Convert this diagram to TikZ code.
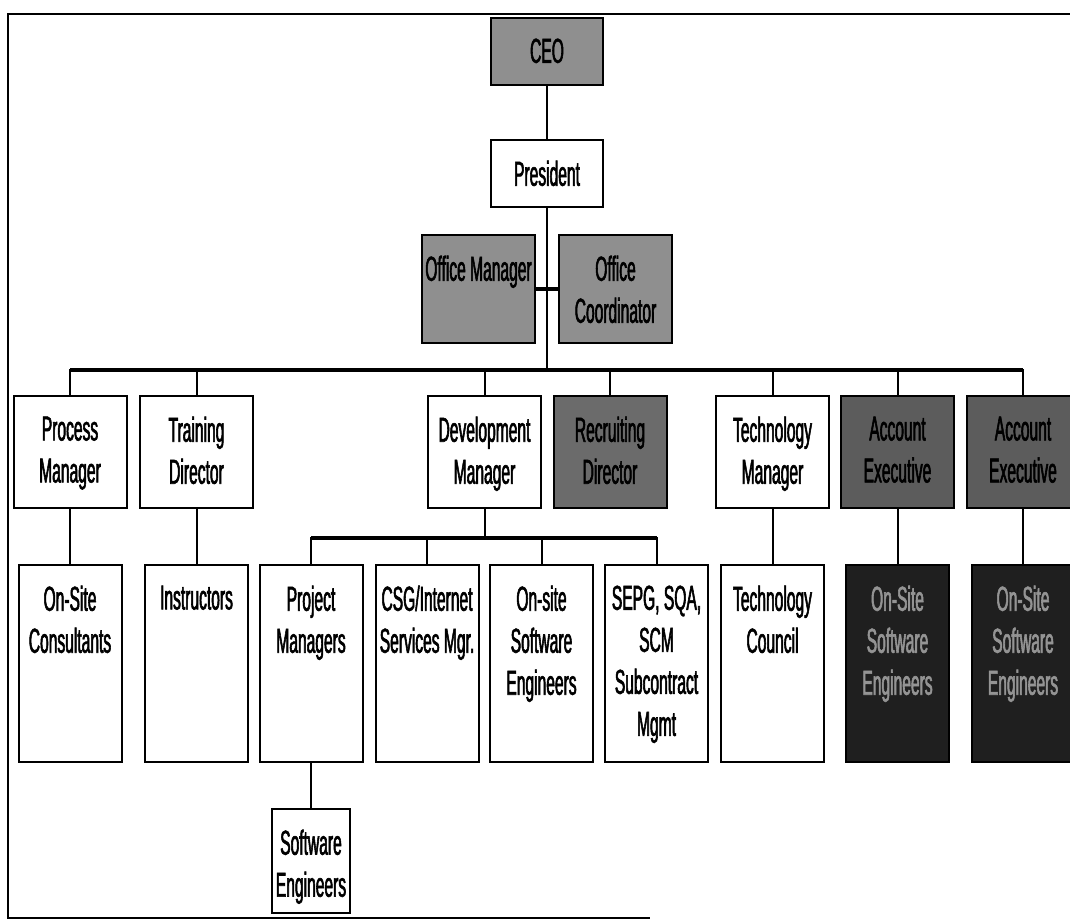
\documentclass[tikz,border=0pt]{standalone}
\usepackage{fontspec}
\newfontfamily\orgfont{Liberation Sans}[FakeStretch=0.45, FakeBold=1.6]
\usepackage{tikz}
\usetikzlibrary{positioning}

\definecolor{midgrey}{gray}{0.56}
\definecolor{deepgrey}{gray}{0.42}
\definecolor{acctgrey}{gray}{0.36}
\definecolor{nightgrey}{gray}{0.12}

\begin{document}
\begin{tikzpicture}[x=0.75pt, y=-0.75pt,
      font=\orgfont\fontsize{26}{31.5}\selectfont,
      box/.style={draw, line width=1.5pt, fill=white, inner sep=0pt,
                  minimum width=84.75pt, minimum height=84pt},
      grey/.style={box, fill=midgrey},
      dgrey/.style={box, fill=deepgrey},
      agrey/.style={box, fill=acctgrey},
      tall/.style={box, minimum width=77.25pt, minimum height=147.75pt},
      blk/.style={tall, fill=nightgrey},
      head/.style={anchor=north, align=center, inner sep=0pt, yshift=-16pt},
      lhead/.style={head, text=black!42},
      link/.style={line width=1.5pt},
      bus/.style={line width=2.4pt},
   ]
   \useasboundingbox (0,0) rectangle (1070,921);
   \clip (0,0) rectangle (1070,921);
   \draw[line width=1.8pt] (1070,14) -- (8,14) -- (8,918) -- (650,918);

   % top of the chart
   \node[grey, minimum width=84pt, minimum height=50.25pt,
         label={[head]north:CEO}] (ceo) at (547,51.5) {};
   \node[box, minimum width=84pt, minimum height=50.25pt,
         label={[head]north:President}] (pres) at (547,173.5) {};
   \node[grey, minimum height=81pt,
         label={[head]north:Office Manager}] (offm) at (478.5,289) {};
   \node[grey, minimum height=81pt,
         label={[head]north:Office\\Coordinator}] (offc) at (615.5,289) {};

   % managers
   \node[box, label={[head]north:Process\\Manager}] (pm) at (70,452) {};
   \node[box, label={[head]north:Training\\Director}] (td) at (196.5,452) {};
   \node[box, label={[head]north:Development\\Manager}] (dm) at (484.5,452) {};
   \node[dgrey, label={[head]north:Recruiting\\Director}] (rd) at (610,452) {};
   \node[box, label={[head]north:Technology\\Manager}] (tm) at (772.5,452) {};
   \node[agrey, label={[head]north:Account\\Executive}] (ae1) at (897.5,452) {};
   \node[agrey, label={[head]north:Account\\Executive}] (ae2) at (1023,452) {};

   % staff
   \node[tall, label={[head]north:On-Site\\Consultants}] (osc) at (70,663.5) {};
   \node[tall, label={[head]north:Instructors}] (ins) at (196.5,663.5) {};
   \node[tall, label={[head]north:Project\\Managers}] (prj) at (311,663.5) {};
   \node[tall, label={[head]north:CSG/Internet\\Services Mgr.}] (csg) at (427,663.5) {};
   \node[tall, label={[head]north:On-site\\Software\\Engineers}] (osse) at (541.5,663.5) {};
   \node[tall, label={[head]north:SEPG, SQA,\\SCM\\Subcontract\\Mgmt}] (sepg) at (656.5,663.5) {};
   \node[tall, label={[head]north:Technology\\Council}] (tc) at (772.5,663.5) {};
   \node[blk, label={[lhead]north:On-Site\\Software\\Engineers}] (os1) at (897.5,663.5) {};
   \node[blk, label={[lhead]north:On-Site\\Software\\Engineers}] (os2) at (1023,663.5) {};
   \node[box, minimum width=58.5pt, minimum height=78pt,
         label={[head]north:Software\\Engineers}] (swe) at (311,861) {};

   % lines
   \coordinate (hub) at (547,370);
   \coordinate (devhub) at (484.5,538);
   \draw[link] (ceo) -- (pres);
   \draw[link] (pres) -- (hub);
   \draw[bus] (offm) -- (offc);
   \draw[bus] (pm.north |- hub) -- (ae2.north |- hub);
   \foreach \n in {pm,td,dm,rd,tm,ae1,ae2}
      \draw[link] (hub) -| (\n.north);
   \draw[link] (dm) -- (devhub);
   \draw[bus] (prj.north |- devhub) -- (sepg.north |- devhub);
   \foreach \n in {prj,csg,osse,sepg}
      \draw[link] (devhub) -| (\n.north);
   \draw[link] (pm) -- (osc);
   \draw[link] (td) -- (ins);
   \draw[link] (tm) -- (tc);
   \draw[link] (ae1) -- (os1);
   \draw[link] (ae2) -- (os2);
   \draw[link] (prj) -- (swe);
\end{tikzpicture}
\end{document}
